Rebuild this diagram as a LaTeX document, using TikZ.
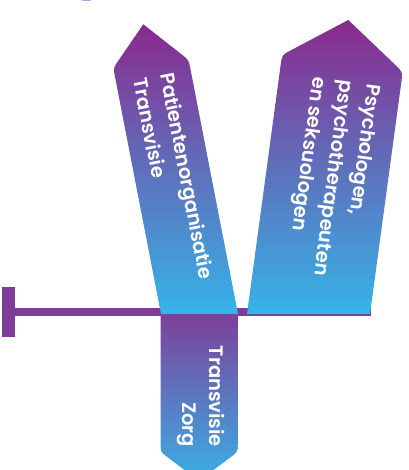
\documentclass[tikz,border=0pt]{standalone}
\usepackage{fontspec}
\setmainfont{Poppins}[BoldFont={Poppins SemiBold}]
\usetikzlibrary{calc}
\definecolor{tagpurple}{HTML}{8A2A8E}
\definecolor{tagblue}{HTML}{35B4E8}
\definecolor{barpurple}{HTML}{7F3C98}
\definecolor{botblue}{HTML}{3AB0E6}
\definecolor{lavender}{HTML}{A9AAE3}
\tikzset{
  tagtext/.style={text=white, font=\fontsize{19.5}{27.5}\selectfont\bfseries, inner sep=0pt},
  tagshade/.style={top color=tagpurple, bottom color=tagblue},
}
\begin{document}
\begin{tikzpicture}[x=1pt,y=-1pt]
\clip (0,0) rectangle (408,470);
\fill[white] (0,0) rectangle (408,470);
% tiny mark at top
\fill[lavender] (82,0) rectangle (90.7,1.4);
% bar
\fill[barpurple] (2.3,287) rectangle (15,337);
\fill[barpurple] (15,307.5) rectangle (370.7,316);
% bottom tag
\coordinate (BTL) at (160.7,309);
\coordinate (BTR) at (237.5,309);
\coordinate (BBR) at (237.5,452);
\coordinate (BP) at (199,481);
\coordinate (BBL) at (160.7,452);
\shade[top color=barpurple, bottom color=botblue]
  (BTL) -- (BTR) -- ($(BBR)!8pt!(BTR)$) .. controls (BBR) .. ($(BBR)!8pt!(BP)$)
  -- (BP) -- ($(BBL)!8pt!(BP)$) .. controls (BBL) .. ($(BBL)!8pt!(BTL)$) -- cycle;
% left tag
\coordinate (LBL) at (161,314);
\coordinate (LLS) at (113.3,68);
\coordinate (LT) at (143.3,24.3);
\coordinate (LRS) at (188.7,60);
\coordinate (LBR) at (238,314);
\shade[tagshade]
  (LBL) -- ($(LLS)!9pt!(LBL)$) .. controls (LLS) .. ($(LLS)!9pt!(LT)$)
  -- (LT) -- ($(LRS)!9pt!(LT)$) .. controls (LRS) .. ($(LRS)!9pt!(LBR)$)
  -- (LBR) -- cycle;
% right tag
\coordinate (RBL) at (247,314);
\coordinate (RLS) at (282,55);
\coordinate (RT) at (348.3,20);
\coordinate (RRS) at (402.7,72);
\coordinate (RBR) at (370,314);
\shade[tagshade]
  (RBL) -- ($(RLS)!10pt!(RBL)$) .. controls (RLS) .. ($(RLS)!10pt!(RT)$)
  -- (RT) -- ($(RRS)!10pt!(RT)$) .. controls (RRS) .. ($(RRS)!10pt!(RBR)$)
  -- (RBR) -- cycle;
% texts
\node[tagtext, align=left, rotate=-79] (ltext) at (174,178.5) {Patientenorganisatie\\Transvisie};
\node[tagtext, align=left, rotate=-97.7] (rtext) at (332,178) {Psychologen,\\psychotherapeuten\\en seksuologen};
\node[tagtext, align=right, rotate=-90] (btext) at (201,396.5) {Transvisie\\Zorg};
\end{tikzpicture}
\end{document}
